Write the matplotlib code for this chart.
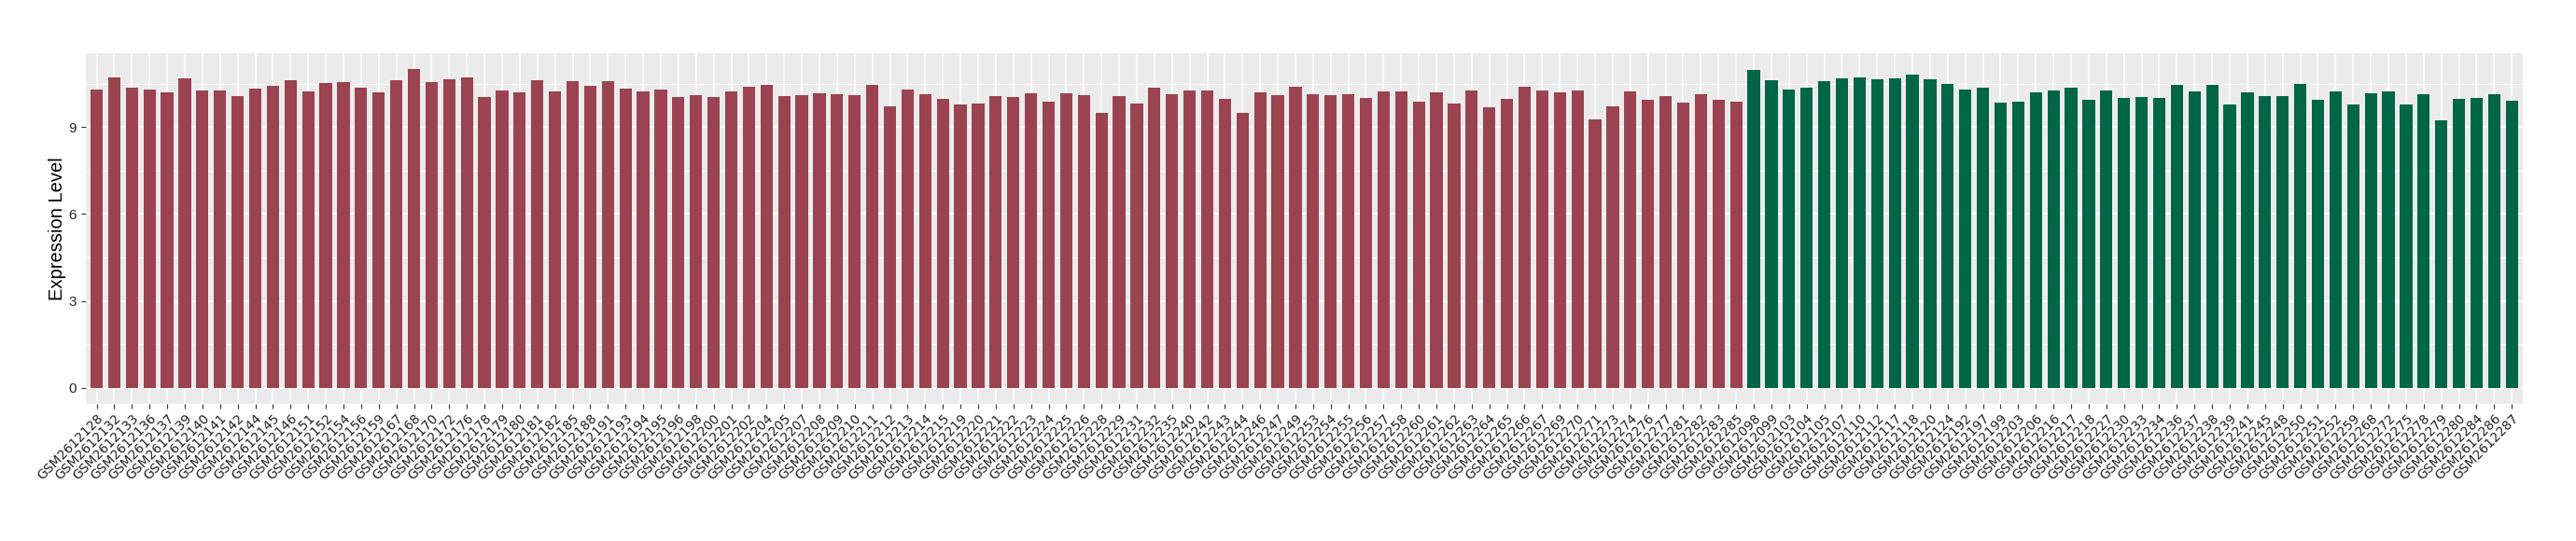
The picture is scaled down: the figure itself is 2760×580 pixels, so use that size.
import matplotlib
matplotlib.use("Agg")
import matplotlib.pyplot as plt
from matplotlib.ticker import MultipleLocator

# sample ids (suffix after GSM2612), group 1 then group 2
ids_g1 = ["128", "132", "133", "136", "137", "139", "140", "141", "142", "144",
          "145", "146", "151", "152", "154", "156", "159", "167", "168", "170",
          "172", "176", "178", "179", "180", "181", "182", "185", "188", "191",
          "193", "194", "195", "196", "198", "200", "201", "202", "204", "205",
          "207", "208", "209", "210", "211", "212", "213", "214", "215", "219",
          "220", "221", "222", "223", "224", "225", "226", "228", "229", "231",
          "232", "235", "240", "242", "243", "244", "246", "247", "249", "253",
          "254", "255", "256", "257", "258", "260", "261", "262", "263", "264",
          "265", "266", "267", "269", "270", "271", "273", "274", "276", "277",
          "281", "282", "283", "285"]
ids_g2 = ["098", "099", "103", "104", "105", "107", "110", "112", "117", "118",
          "120", "124", "192", "197", "199", "203", "206", "216", "217", "218",
          "227", "230", "233", "234", "236", "237", "238", "239", "241", "245",
          "248", "250", "251", "252", "259", "268", "272", "275", "278", "279",
          "280", "284", "286", "287"]

vals_g1 = [10.30, 10.72, 10.36, 10.30, 10.20, 10.68, 10.27, 10.27, 10.07, 10.33,
           10.43, 10.62, 10.23, 10.52, 10.56, 10.35, 10.19, 10.61, 10.99, 10.54,
           10.64, 10.70, 10.03, 10.26, 10.19, 10.61, 10.22, 10.57, 10.41, 10.57,
           10.32, 10.22, 10.29, 10.03, 10.10, 10.03, 10.22, 10.38, 10.45, 10.06,
           10.10, 10.16, 10.13, 10.10, 10.45, 9.71, 10.29, 10.13, 9.97, 9.78,
           9.81, 10.06, 10.03, 10.16, 9.87, 10.16, 10.10, 9.49, 10.06, 9.81,
           10.35, 10.13, 10.26, 10.26, 9.97, 9.49, 10.19, 10.10, 10.38, 10.13,
           10.10, 10.13, 10.00, 10.22, 10.22, 9.87, 10.19, 9.81, 10.26, 9.68,
           9.97, 10.38, 10.26, 10.19, 10.26, 9.27, 9.71, 10.22, 9.94, 10.06,
           9.84, 10.13, 9.94, 9.87]
vals_g2 = [10.96, 10.61, 10.29, 10.35, 10.57, 10.67, 10.70, 10.64, 10.67, 10.80,
           10.64, 10.48, 10.29, 10.35, 9.84, 9.87, 10.19, 10.26, 10.35, 9.94,
           10.26, 10.00, 10.03, 10.00, 10.45, 10.22, 10.45, 9.78, 10.19, 10.06,
           10.06, 10.48, 9.94, 10.22, 9.78, 10.16, 10.22, 9.78, 10.13, 9.23,
           9.97, 10.00, 10.13, 9.90]

samples = ["GSM2612" + s for s in ids_g1 + ids_g2]
values = vals_g1 + vals_g2
colors = ["#9b4351"] * len(vals_g1) + ["#006645"] * len(vals_g2)

fig = plt.figure(figsize=(27.6, 5.8), dpi=100)
ax = fig.add_axes([0.0334, 0.2534, 0.9458, 0.6488])

x = list(range(len(samples)))
ax.set_facecolor("#ebebeb")
ax.bar(x, values, width=0.7, color=colors, zorder=3)

ax.set_xlim(-0.6, len(samples) - 0.4)
ax.set_ylim(-0.55, 11.56)
ax.yaxis.set_major_locator(MultipleLocator(3))
ax.yaxis.set_minor_locator(MultipleLocator(1.5))
ax.grid(which="major", color="white", linewidth=1.1, zorder=1)
ax.grid(which="minor", axis="y", color="white", linewidth=0.55, zorder=1)

ax.set_xticks(x)
ax.set_xticklabels(samples, rotation=45, ha="right", rotation_mode="anchor",
                   fontsize=10, family="DejaVu Sans")
ax.tick_params(axis="both", which="major", length=3.8, width=0.8,
               color="#333333", labelcolor="#222222")
ax.tick_params(axis="x", pad=2)
ax.tick_params(axis="y", which="minor", length=0)
for t in ax.get_yticklabels():
    t.set_fontsize(11)
    t.set_family(["Liberation Sans", "DejaVu Sans"])

ax.set_ylabel("Expression Level", fontsize=14.5, family=["Liberation Sans", "DejaVu Sans"],
              labelpad=2)
for s in ax.spines.values():
    s.set_visible(False)

fig.savefig("out.png", dpi=100)
